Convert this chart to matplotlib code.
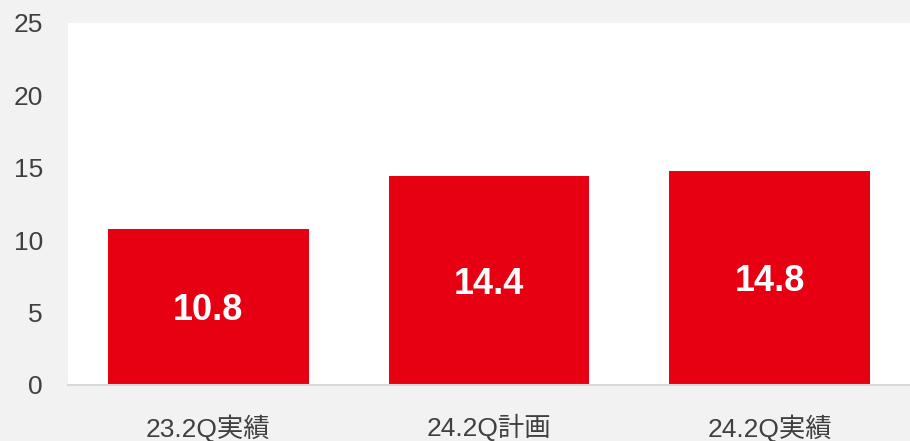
import matplotlib.pyplot as plt

# data
categories = ['23.2Q実績', '24.2Q計画', '24.2Q実績']
values = [10.8, 14.4, 14.8]
yticks = [0, 5, 10, 15, 20, 25]

plt.rcParams['font.family'] = ['Liberation Sans', 'Noto Sans CJK JP']

fig = plt.figure(figsize=(9.1, 4.41), dpi=100, facecolor='#f2f2f2')
ax = fig.add_axes([68 / 910, 56 / 441, 842 / 910, 362 / 441])
ax.set_facecolor('white')

x = range(len(categories))
bars = ax.bar(x, values, width=0.715, color='#e60012', zorder=2)

for b, v in zip(bars, values):
    ax.text(b.get_x() + b.get_width() / 2, v / 2, f'{v:.1f}',
            ha='center', va='center_baseline', color='white',
            fontsize=26, fontweight='bold')

ax.set_xlim(-0.5, 2.5)
ax.set_ylim(0, 25)
ax.set_yticks(yticks)
ax.set_xticks(list(x))
ax.set_xticklabels(categories)
ax.tick_params(axis='y', length=0, pad=18, labelsize=19, labelcolor='#404040')
ax.tick_params(axis='x', length=0, pad=21, labelsize=19, labelcolor='#404040')

for s in ['top', 'left', 'right']:
    ax.spines[s].set_visible(False)
ax.spines['bottom'].set_color('#d9d9d9')
ax.spines['bottom'].set_linewidth(1.5)

fig.savefig('out.png', dpi=100, facecolor=fig.get_facecolor())
